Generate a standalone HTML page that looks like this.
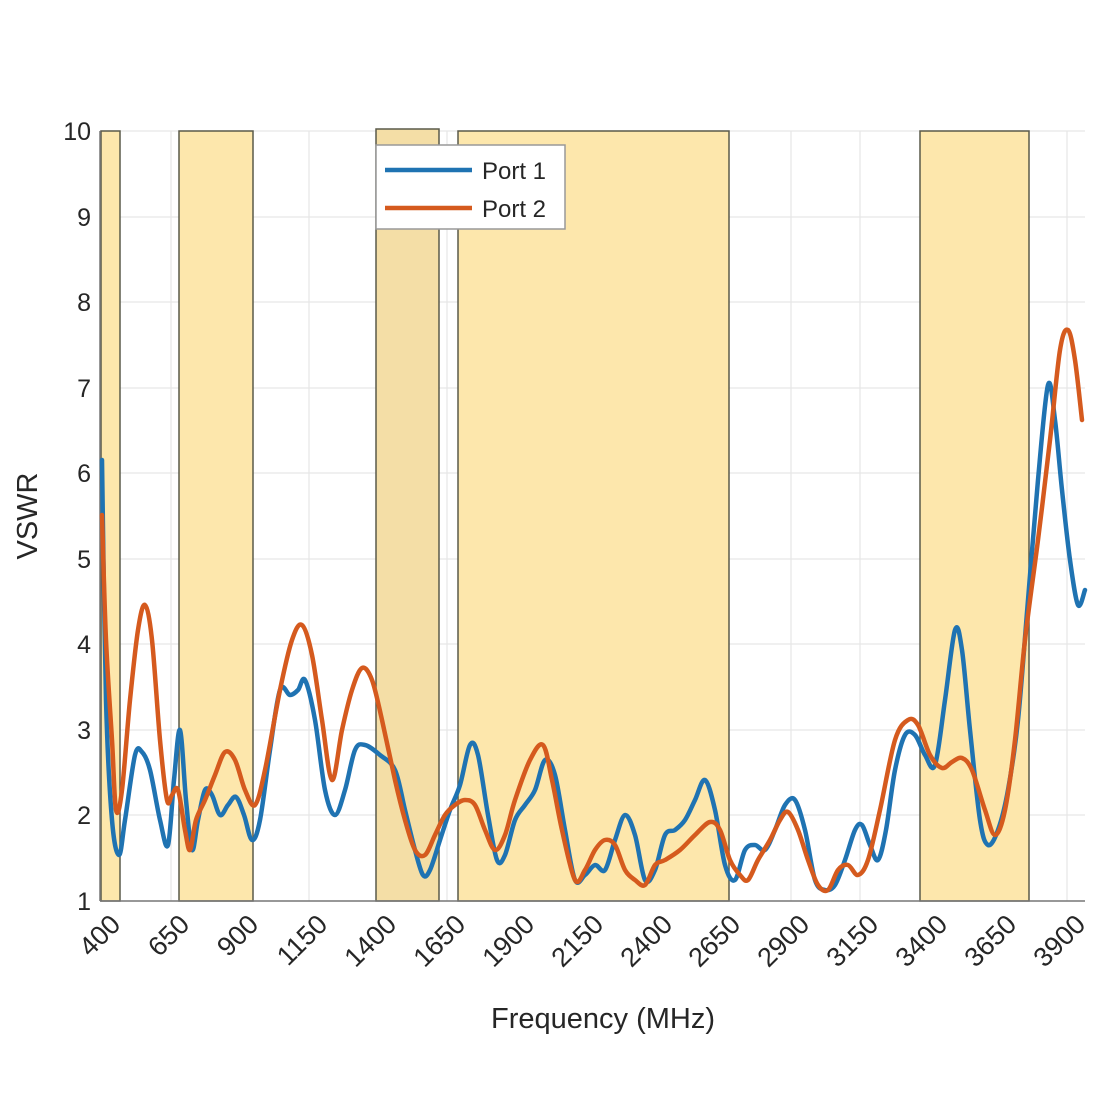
<!DOCTYPE html>
<html><head><meta charset="utf-8"><style>
body{margin:0;background:#fff;}
svg{display:block;font-family:"Liberation Sans","DejaVu Sans",sans-serif;}
</style></head><body>
<svg width="1100" height="1100" viewBox="0 0 1100 1100" xmlns="http://www.w3.org/2000/svg">
<rect width="1100" height="1100" fill="#fff"/>
<g stroke="#e6e6e6" stroke-width="1.2">
<line x1="100" y1="131" x2="1085" y2="131"/><line x1="100" y1="217" x2="1085" y2="217"/>
<line x1="100" y1="302" x2="1085" y2="302"/><line x1="100" y1="388" x2="1085" y2="388"/>
<line x1="100" y1="473" x2="1085" y2="473"/><line x1="100" y1="559" x2="1085" y2="559"/>
<line x1="100" y1="644" x2="1085" y2="644"/><line x1="100" y1="730" x2="1085" y2="730"/>
<line x1="100" y1="815" x2="1085" y2="815"/>
<line x1="171" y1="131" x2="171" y2="901"/><line x1="240" y1="131" x2="240" y2="901"/>
<line x1="309" y1="131" x2="309" y2="901"/><line x1="378" y1="131" x2="378" y2="901"/>
<line x1="447" y1="131" x2="447" y2="901"/><line x1="516" y1="131" x2="516" y2="901"/>
<line x1="585" y1="131" x2="585" y2="901"/><line x1="654" y1="131" x2="654" y2="901"/>
<line x1="722" y1="131" x2="722" y2="901"/><line x1="791" y1="131" x2="791" y2="901"/>
<line x1="860" y1="131" x2="860" y2="901"/><line x1="929" y1="131" x2="929" y2="901"/>
<line x1="998" y1="131" x2="998" y2="901"/><line x1="1067" y1="131" x2="1067" y2="901"/>
</g>
<g stroke="#5a5a4a" stroke-width="1.5">
<rect x="101" y="131" width="19" height="770" fill="#fde7ac"/>
<rect x="179" y="131" width="74" height="770" fill="#fde7ac"/>
<rect x="376" y="129" width="63" height="772" fill="#f4dea6"/>
<rect x="458" y="131" width="271" height="770" fill="#fde7ac"/>
<rect x="920" y="131" width="109" height="770" fill="#fde7ac"/>
</g>
<line x1="100" y1="901" x2="1085" y2="901" stroke="#777" stroke-width="1.5"/>
<line x1="100" y1="131" x2="100" y2="901" stroke="#777" stroke-width="1.5"/>
<g fill="none" stroke-width="4.5" stroke-linejoin="round" stroke-linecap="round">
<polyline class="sm" stroke="#1f73b2" points="102,460 106,700 112,820 119,855 125,820 135,755 142,752 150,770 160,820 168,845 174,780 180,730 186,800 192,850 198,820 205,790 212,795 220,815 228,805 236,797 244,815 252,840 260,820 270,750 280,690 290,695 298,690 305,680 315,720 325,790 335,815 345,790 355,750 365,745 380,755 395,770 405,810 415,850 423,875 430,870 440,840 450,810 460,785 470,745 478,755 488,815 497,860 505,855 515,820 525,805 535,790 545,760 555,775 565,830 575,880 585,875 595,865 605,870 615,840 625,815 635,835 645,880 655,870 665,835 675,830 685,820 695,800 705,780 715,810 725,865 735,880 745,850 755,845 765,850 775,830 785,805 795,800 805,830 815,880 825,890 835,885 845,860 855,830 862,825 870,845 878,860 886,830 895,770 905,735 915,735 925,755 935,765 945,700 955,630 962,650 970,730 980,820 988,845 998,830 1008,790 1018,720 1028,600 1038,480 1048,385 1055,420 1062,490 1070,560 1078,605 1085,590"/>
<polyline class="sm" stroke="#d55a1e" points="102,515 106,640 112,740 116,810 122,790 130,700 138,630 145,605 152,640 160,740 167,800 172,795 178,790 185,830 190,850 196,820 205,800 215,775 225,752 235,760 245,790 255,805 265,770 280,690 292,640 302,625 312,655 322,720 332,780 342,730 352,690 362,668 372,680 382,720 395,780 405,820 415,850 425,855 435,835 445,815 455,805 465,800 475,805 485,830 495,850 505,835 515,800 530,760 543,745 552,780 562,830 575,880 585,870 595,850 605,840 615,845 625,870 635,880 645,885 655,865 665,860 680,850 695,835 710,822 720,830 730,860 740,875 748,880 758,860 770,840 780,820 788,812 798,830 808,860 818,885 828,890 838,870 848,865 858,875 868,860 880,810 895,740 908,720 918,725 930,755 942,768 952,762 962,758 972,770 985,810 995,835 1005,810 1015,740 1025,640 1038,540 1050,440 1060,350 1068,330 1075,360 1082,420"/>
</g>
<rect x="376" y="145" width="189" height="84" fill="#fff" stroke="#999" stroke-width="1.5"/>
<line x1="385" y1="170" x2="472" y2="170" stroke="#1f73b2" stroke-width="4.5"/>
<line x1="385" y1="208" x2="472" y2="208" stroke="#d55a1e" stroke-width="4.5"/>
<g font-size="24" fill="#262626">
<text x="482" y="179">Port 1</text><text x="482" y="217">Port 2</text>
</g>
<g font-size="25" fill="#262626" text-anchor="end">
<text x="91" y="140">10</text><text x="91" y="226">9</text><text x="91" y="311">8</text>
<text x="91" y="397">7</text><text x="91" y="482">6</text><text x="91" y="568">5</text>
<text x="91" y="653">4</text><text x="91" y="739">3</text><text x="91" y="824">2</text>
<text x="91" y="910">1</text>
</g>
<g font-size="27" fill="#262626" text-anchor="end">
<text transform="translate(122,926) rotate(-45)">400</text>
<text transform="translate(191,926) rotate(-45)">650</text>
<text transform="translate(260,926) rotate(-45)">900</text>
<text transform="translate(329,926) rotate(-45)">1150</text>
<text transform="translate(398,926) rotate(-45)">1400</text>
<text transform="translate(467,926) rotate(-45)">1650</text>
<text transform="translate(536,926) rotate(-45)">1900</text>
<text transform="translate(605,926) rotate(-45)">2150</text>
<text transform="translate(674,926) rotate(-45)">2400</text>
<text transform="translate(742,926) rotate(-45)">2650</text>
<text transform="translate(811,926) rotate(-45)">2900</text>
<text transform="translate(880,926) rotate(-45)">3150</text>
<text transform="translate(949,926) rotate(-45)">3400</text>
<text transform="translate(1018,926) rotate(-45)">3650</text>
<text transform="translate(1087,926) rotate(-45)">3900</text>
</g>
<text x="603" y="1028" font-size="29" fill="#262626" text-anchor="middle">Frequency (MHz)</text>
<text transform="translate(37,516) rotate(-90)" font-size="29" fill="#262626" text-anchor="middle">VSWR</text>
</svg>
<script>
document.querySelectorAll('polyline.sm').forEach(function(pl){
  var p=pl.getAttribute('points').trim().split(/\s+/).map(function(s){return s.split(',').map(Number);});
  var d='M'+p[0][0]+','+p[0][1];
  for(var i=0;i<p.length-1;i++){
    var p0=p[i>0?i-1:i],p1=p[i],p2=p[i+1],p3=p[i+2<p.length?i+2:i+1];
    var c1x=p1[0]+(p2[0]-p0[0])/6,c1y=p1[1]+(p2[1]-p0[1])/6;
    var c2x=p2[0]-(p3[0]-p1[0])/6,c2y=p2[1]-(p3[1]-p1[1])/6;
    d+=' C'+c1x.toFixed(1)+','+c1y.toFixed(1)+' '+c2x.toFixed(1)+','+c2y.toFixed(1)+' '+p2[0]+','+p2[1];
  }
  var path=document.createElementNS('http://www.w3.org/2000/svg','path');
  path.setAttribute('d',d);path.setAttribute('stroke',pl.getAttribute('stroke'));
  pl.parentNode.replaceChild(path,pl);
});
</script>
</body></html>
